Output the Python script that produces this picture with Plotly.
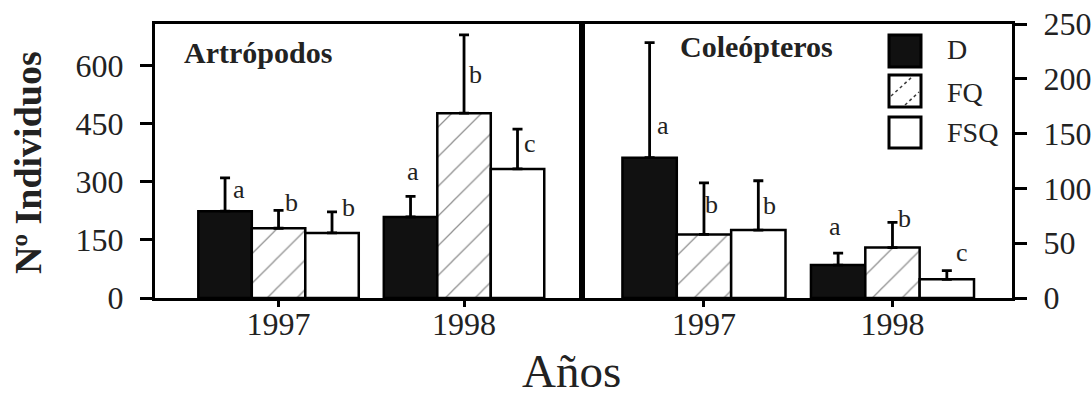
import plotly.graph_objects as go

# ---- data ---------------------------------------------------------------
years = ["1997", "1998"]
treatments = ["D", "FQ", "FSQ"]

# Artrópodos (left axis)
arth_D = [224, 209]
arth_FQ = [180, 477]
arth_FSQ = [168, 333]
arth_D_err = [86, 53]
arth_FQ_err = [46, 202]
arth_FSQ_err = [54, 103]
arth_letters_D = ["a", "a"]
arth_letters_FQ = ["b", "b"]
arth_letters_FSQ = ["b", "c"]

# Coleópteros (right axis)
cole_D = [128, 30]
cole_FQ = [58, 46]
cole_FSQ = [62, 17]
cole_D_err = [105, 11]
cole_FQ_err = [47, 23]
cole_FSQ_err = [45, 8]
cole_letters_D = ["a", "a"]
cole_letters_FQ = ["b", "b"]
cole_letters_FSQ = ["b", "c"]

left_ticks = [0, 150, 300, 450, 600]
right_ticks = [0, 50, 100, 150, 200, 250]

# ---- styling ------------------------------------------------------------
FONT = "Liberation Serif"
W, H = 1092, 399
ML, MR, MT, MB = 155, 80, 24, 101
PW, PH = W - ML - MR, H - MT - MB
SPLIT = (582 - ML) / PW
BARGAP = 0.135
BW = (1 - BARGAP) / 3

def px(x):
    return (x - ML) / PW

def py(y):
    return (H - MB - y) / PH

styles = {
    "D": dict(color="#111111", pattern=dict(shape="")),
    "FQ": dict(color="white", pattern=dict(shape="/", size=21, solidity=0.06,
                                           fgcolor="#222222", bgcolor="white")),
    "FSQ": dict(color="white", pattern=dict(shape="")),
}

fig = go.Figure()
x_pos = [0, 1]

panels = [
    ("x", "y", [arth_D, arth_FQ, arth_FSQ], [arth_D_err, arth_FQ_err, arth_FSQ_err],
     [arth_letters_D, arth_letters_FQ, arth_letters_FSQ]),
    ("x2", "y2", [cole_D, cole_FQ, cole_FSQ], [cole_D_err, cole_FQ_err, cole_FSQ_err],
     [cole_letters_D, cole_letters_FQ, cole_letters_FSQ]),
]

# pixel offsets of each significance letter from the top of its error bar
letter_shift = {
    ("x", 0): [(14, -12), (13, 8), (16, 4)],
    ("x", 1): [(2, 25), (11, -40), (12, -14)],
    ("x2", 0): [(13, -83), (8, -22), (11, -25)],
    ("x2", 1): [(-3, 27), (12, 4), (15, 18)],
}

for xa, ya, vals, errs, letters in panels:
    for k, t in enumerate(treatments):
        st = styles[t]
        fig.add_trace(go.Bar(
            x=x_pos, y=vals[k], name=t, xaxis=xa, yaxis=ya, showlegend=False,
            marker=dict(color=st["color"], pattern=st["pattern"],
                        line=dict(color="black", width=2.5)),
            error_y=dict(type="data", array=errs[k], arrayminus=[0, 0],
                         symmetric=False, color="black", thickness=2.8, width=5),
            offsetgroup=t,
        ))
        for g in range(2):
            dx, dy = letter_shift[(xa, g)][k]
            fig.add_annotation(
                x=g + (k - 1) * BW, y=vals[k][g] + errs[k][g], xref=xa, yref=ya,
                text=letters[k][g], showarrow=False, xshift=dx, yshift=dy,
                font=dict(family=FONT, size=26, color="#222"),
            )

axis_common = dict(showline=True, linewidth=3, linecolor="black", mirror=True,
                   ticks="outside", tickwidth=3, tickcolor="black",
                   showgrid=False, zeroline=False, automargin=False,
                   tickfont=dict(family=FONT, size=32, color="#222"))

fig.update_layout(
    width=W, height=H, margin=dict(l=ML, r=MR, t=MT, b=MB, autoexpand=False),
    paper_bgcolor="white", plot_bgcolor="white",
    barmode="group", bargap=BARGAP, bargroupgap=0,
    xaxis=dict(domain=[0, SPLIT], range=[-0.666, 1.636], anchor="y",
               tickvals=x_pos, ticktext=years, ticklen=6, ticklabelstandoff=-10,
               **axis_common),
    xaxis2=dict(domain=[SPLIT, 1], range=[-0.647, 1.634], anchor="y2",
                tickvals=x_pos, ticktext=years, ticklen=6, ticklabelstandoff=-10,
                **axis_common),
    yaxis=dict(domain=[0, 1], range=[0, 707], anchor="x", tickvals=left_ticks,
               ticklen=12, ticklabelstandoff=10, **axis_common),
    yaxis2=dict(domain=[0, 1], range=[0, 250], anchor="x2", side="right",
                tickvals=right_ticks, ticklen=12, ticklabelstandoff=10,
                **axis_common),
)

# panel titles and axis titles
fig.add_annotation(x=px(182), y=py(52), xref="paper", yref="paper", xanchor="left",
                   yanchor="middle", text="<b>Artrópodos</b>", showarrow=False,
                   font=dict(family=FONT, size=30, color="#222"))
fig.add_annotation(x=px(678), y=py(47), xref="paper", yref="paper", xanchor="left",
                   yanchor="middle", text="<b>Coleópteros</b>", showarrow=False,
                   font=dict(family=FONT, size=30, color="#222"))
fig.add_annotation(x=px(28), y=py(163), xref="paper", yref="paper", xanchor="center",
                   yanchor="middle", text="<b>Nº Individuos</b>", textangle=-90,
                   showarrow=False, font=dict(family=FONT, size=38, color="#222"))
fig.add_annotation(x=px(571), y=py(398), xref="paper", yref="paper", xanchor="center",
                   yanchor="bottom", text="Años", showarrow=False, borderpad=0,
                   font=dict(family=FONT, size=47, color="#222"))

# legend keys
legend_rows = [(35, 67, 49), (75, 107, 92), (117, 148, 132)]
for t, (y0, y1, yc) in zip(treatments, legend_rows):
    fig.add_shape(type="rect", xref="paper", yref="paper",
                  x0=px(889), x1=px(921), y0=py(y1), y1=py(y0),
                  fillcolor="#111111" if t == "D" else "white",
                  line=dict(color="black", width=3))
    if t == "FQ":
        for (a0, b0, a1, b1) in [(891, 96, 912, 77), (905, 105, 919, 92)]:
            fig.add_shape(type="line", xref="paper", yref="paper",
                          x0=px(a0), y0=py(b0), x1=px(a1), y1=py(b1),
                          line=dict(color="#3a3a3a", width=1.5, dash="dot"))
    fig.add_annotation(x=px(945), y=py(yc), xref="paper", yref="paper",
                       xanchor="left", yanchor="middle", text=t, showarrow=False,
                       font=dict(family=FONT, size=28, color="#222"))

fig.write_html("out.html")
